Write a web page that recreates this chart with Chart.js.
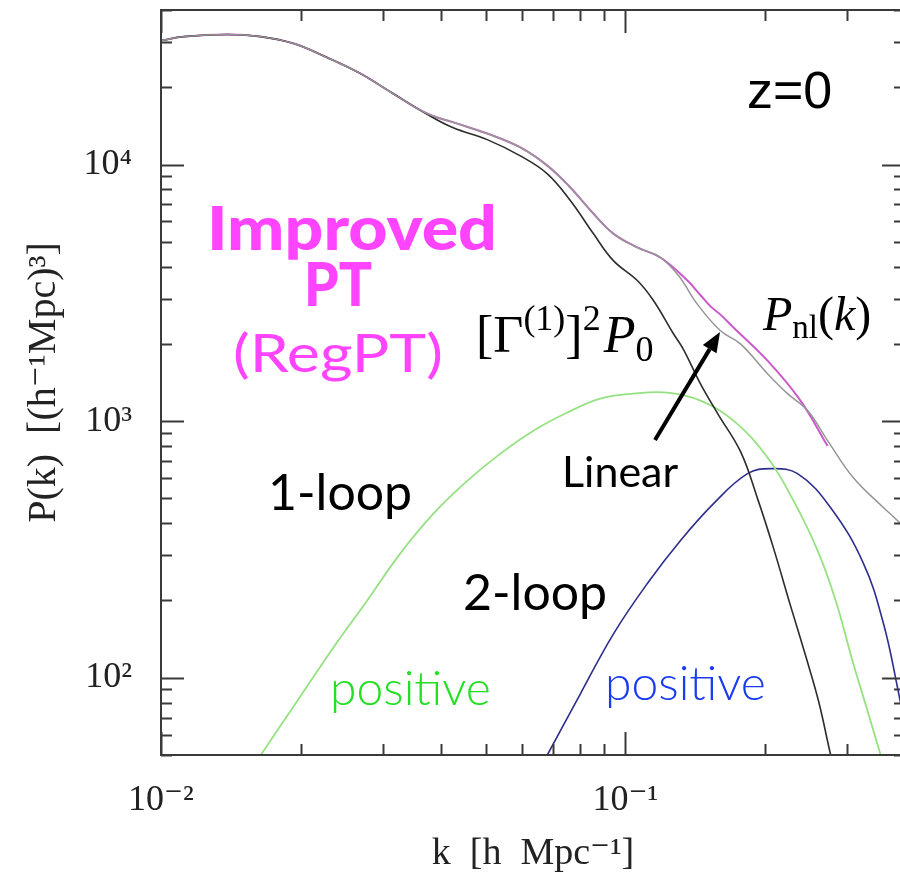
<!DOCTYPE html>
<html>
<head>
<meta charset="utf-8">
<script src="https://cdn.jsdelivr.net/npm/chart.js@4.4.1/dist/chart.umd.min.js"></script>
<style>
  html, body { margin: 0; padding: 0; background: #ffffff; overflow: hidden; }
  canvas { display: block; }
</style>
</head>
<body>
<canvas id="pk" width="900" height="875"></canvas>
<script>
// Matter power spectrum at z = 0: k in h/Mpc, P(k) in (Mpc/h)^3

// linear spectrum
const kLinear = [0.01, 0.0112, 0.0139, 0.0164, 0.0193, 0.0228, 0.0269, 0.0316, 0.0374, 0.0426, 0.0504, 0.0594, 0.0679, 0.0761, 0.0853, 0.0942, 0.1061, 0.119, 0.13, 0.143, 0.1602, 0.1769, 0.2023, 0.2234, 0.2468, 0.2725, 0.31, 0.3597, 0.3857, 0.4];
const pLinear = [30400, 31500, 32100, 31500, 29600, 26100, 22600, 18900, 15800, 14600, 13200, 11650, 9900, 8140, 6440, 5380, 4750, 4340, 3700, 2850, 2250, 2000, 1530, 1280, 1100, 840, 600, 460, 409, 380];

// propagator-damped linear term [Gamma^(1)]^2 P0
const kDamped = [0.01, 0.0112, 0.0139, 0.0164, 0.0193, 0.0228, 0.0269, 0.0316, 0.0374, 0.0426, 0.0504, 0.0594, 0.0679, 0.0761, 0.0853, 0.0942, 0.1061, 0.1149, 0.1269, 0.1334, 0.145, 0.158, 0.177, 0.1925, 0.2084, 0.2267, 0.2443, 0.2606, 0.2767, 0.282];
const pDamped = [30400, 31500, 32100, 31500, 29600, 26100, 22600, 18900, 15700, 13900, 12500, 10800, 9200, 7240, 5380, 4220, 3530, 2950, 2190, 1900, 1400, 1070, 760, 500, 320, 191, 122, 81, 50, 44];

// RegPT nonlinear spectrum
const kRegPT = [0.01, 0.0112, 0.0139, 0.0164, 0.0193, 0.0228, 0.0269, 0.0316, 0.0374, 0.0426, 0.0504, 0.0594, 0.0679, 0.0761, 0.0853, 0.0942, 0.1061, 0.119, 0.136, 0.145, 0.1525, 0.1602, 0.1709, 0.2023, 0.2384, 0.2725];
const pRegPT = [30400, 31500, 32100, 31500, 29600, 26100, 22600, 18900, 15800, 14600, 13200, 11650, 9900, 8140, 6440, 5380, 4750, 4340, 3530, 3100, 2800, 2600, 2315, 1720, 1200, 800];

// 1-loop contribution (positive)
const kOneLoop = [0.0164, 0.0199, 0.0235, 0.0278, 0.0327, 0.0386, 0.0457, 0.0538, 0.0634, 0.075, 0.0883, 0.104, 0.1232, 0.145, 0.1709, 0.2023, 0.2301, 0.2594, 0.2836, 0.3085, 0.3324, 0.3545];
const pOneLoop = [50, 84, 131, 200, 304, 436, 586, 747, 918, 1080, 1224, 1280, 1291, 1202, 1004, 721, 490, 313, 200, 116, 74, 50];

// 2-loop contribution (positive)
const kTwoLoop = [0.0679, 0.08, 0.0942, 0.1115, 0.1313, 0.1548, 0.1832, 0.2053, 0.2348, 0.2767, 0.3258, 0.3597, 0.3857, 0.4];
const pTwoLoop = [50, 86.6, 148, 233, 342, 477, 624, 653, 624, 460, 278, 162, 91, 64];

// axis ranges and decade labels
const kRange = [0.01, 0.4];
const pRange = [50, 40000];
const kDecades = [-2, -1];
const kDecadeLabels = ['10⁻²', '10⁻¹'];
const pDecades = [2, 3, 4];
const pDecadeLabels = ['10²', '10³', '10⁴'];

const SERIF = "'Liberation Serif', 'DejaVu Serif', serif";
const HUMANIST = "Lato, 'Open Sans', sans-serif";
const AXIS_COLOR = '#3a3a3a';
// right edge of the plot box; it runs just past the canvas border
const PLOT_RIGHT = 905;

const toPoints = (ks, ps) => ks.map((k, i) => ({ x: k, y: ps[i] }));

function decadeLabel(value, decades, labels) {
  const e = Math.log10(value);
  const r = Math.round(e);
  if (Math.abs(e - r) > 1e-6) return '';
  const i = decades.indexOf(r);
  return i < 0 ? '' : labels[i];
}

// all 1..9 x 10^n values inside a range
function logTickValues(min, max) {
  const out = [];
  for (let e = Math.floor(Math.log10(min)); e <= Math.ceil(Math.log10(max)); e++) {
    for (let m = 1; m <= 9; m++) {
      const v = m * Math.pow(10, e);
      if (v >= min * 0.9999 && v <= max * 1.0001) out.push({ v, major: m === 1 });
    }
  }
  return out;
}

// widen the plot box so its right side sits at PLOT_RIGHT
const plotBox = {
  id: 'plotBox',
  afterLayout(chart) {
    const area = chart.chartArea;
    const x = chart.scales.x;
    area.right = PLOT_RIGHT;
    area.width = area.right - area.left;
    x.right = PLOT_RIGHT;
    x.width = x.right - x.left;
    x.configure();
  }
};

// box frame with inward ticks on all four sides
const frameTicks = {
  id: 'frameTicks',
  afterDatasetsDraw(chart) {
    const { ctx, chartArea: a, scales: { x, y } } = chart;
    ctx.save();
    ctx.strokeStyle = AXIS_COLOR;
    ctx.lineWidth = 2;
    ctx.lineCap = 'butt';
    ctx.strokeRect(a.left, a.top, a.right - a.left, a.bottom - a.top);
    ctx.beginPath();
    for (const t of logTickValues(x.min, x.max)) {
      const px = Math.round(x.getPixelForValue(t.v)) + 0.5;
      const len = t.major ? 23 : 11;
      ctx.moveTo(px, a.bottom); ctx.lineTo(px, a.bottom - len);
      ctx.moveTo(px, a.top); ctx.lineTo(px, a.top + len);
    }
    for (const t of logTickValues(y.min, y.max)) {
      const py = Math.round(y.getPixelForValue(t.v)) + 0.5;
      const len = t.major ? 23 : 11;
      ctx.moveTo(a.left, py); ctx.lineTo(a.left + len, py);
      ctx.moveTo(a.right, py); ctx.lineTo(a.right - len, py);
    }
    ctx.stroke();
    ctx.restore();
  }
};

// draws a run of text pieces with their own fonts and baseline shifts
function drawRuns(ctx, x, y, runs, color) {
  ctx.fillStyle = color;
  ctx.textAlign = 'left';
  ctx.textBaseline = 'alphabetic';
  let cx = x;
  for (const r of runs) {
    ctx.font = r.font;
    ctx.fillText(r.t, cx, y + (r.dy || 0));
    cx += ctx.measureText(r.t).width + (r.gap || 0);
  }
}

// text centred on cx, stretched horizontally to the given width
function drawWide(ctx, s, cx, y, width, font, color) {
  ctx.save();
  ctx.font = font;
  ctx.fillStyle = color;
  ctx.textAlign = 'center';
  ctx.textBaseline = 'alphabetic';
  const sx = width / ctx.measureText(s).width;
  ctx.translate(cx, y);
  ctx.scale(sx, 1);
  ctx.fillText(s, 0, 0);
  ctx.restore();
}

function drawText(ctx, s, x, y, font, color, align) {
  ctx.font = font;
  ctx.fillStyle = color;
  ctx.textAlign = align || 'left';
  ctx.textBaseline = 'alphabetic';
  ctx.fillText(s, x, y);
}

// curve names, the RegPT heading and the arrow to the linear spectrum
const annotations = {
  id: 'annotations',
  afterDraw(chart) {
    const { ctx } = chart;
    ctx.save();
    drawWide(ctx, 'Improved', 352, 250, 290, `900 60px ${HUMANIST}`, '#ff44ff');
    drawWide(ctx, 'PT', 338, 306, 68, `900 60px ${HUMANIST}`, '#ff44ff');
    drawWide(ctx, '(RegPT)', 338, 372, 210, `52px ${HUMANIST}`, '#ff44ff');
    drawText(ctx, '1-loop', 268, 510, `50px ${HUMANIST}`, '#000000');
    drawText(ctx, '2-loop', 463, 610, `50px ${HUMANIST}`, '#000000');
    drawText(ctx, 'positive', 330, 705, `300 48px ${HUMANIST}`, '#22e022');
    drawText(ctx, 'positive', 605, 700, `300 48px ${HUMANIST}`, '#1a3cf0');
    drawText(ctx, 'Linear', 562, 487, `43px ${HUMANIST}`, '#000000');
    drawText(ctx, 'z=0', 747, 108, `52px 'Liberation Sans', Arial, sans-serif`, '#000000');

    drawRuns(ctx, 476, 352, [
      { t: '[Γ', font: `52px ${SERIF}` },
      { t: '(1)', font: `36px ${SERIF}`, dy: -22 },
      { t: ']', font: `52px ${SERIF}` },
      { t: '2', font: `36px ${SERIF}`, dy: -22, gap: 3 },
      { t: 'P', font: `italic 52px ${SERIF}` },
      { t: '0', font: `36px ${SERIF}`, dy: 9 }
    ], '#000000');

    drawRuns(ctx, 763, 330, [
      { t: 'P', font: `italic 48px ${SERIF}` },
      { t: 'nl', font: `33px ${SERIF}`, dy: 8 },
      { t: '(', font: `48px ${SERIF}` },
      { t: 'k', font: `italic 48px ${SERIF}` },
      { t: ')', font: `48px ${SERIF}` }
    ], '#000000');

    // arrow from the "Linear" label up to the linear curve
    const x0 = 655, y0 = 440, x1 = 720, y1 = 332;
    const ang = Math.atan2(y1 - y0, x1 - x0);
    const head = 20, half = 8;
    const bx = x1 - head * Math.cos(ang), by = y1 - head * Math.sin(ang);
    ctx.strokeStyle = '#000000';
    ctx.lineWidth = 4;
    ctx.beginPath();
    ctx.moveTo(x0, y0);
    ctx.lineTo(bx, by);
    ctx.stroke();
    ctx.fillStyle = '#000000';
    ctx.beginPath();
    ctx.moveTo(x1, y1);
    ctx.lineTo(bx + half * Math.sin(ang), by - half * Math.cos(ang));
    ctx.lineTo(bx - half * Math.sin(ang), by + half * Math.cos(ang));
    ctx.closePath();
    ctx.fill();
    ctx.restore();
  }
};

const whiteBackground = {
  id: 'whiteBackground',
  beforeDraw(chart) {
    const { ctx, width, height } = chart;
    ctx.save();
    ctx.fillStyle = '#ffffff';
    ctx.fillRect(0, 0, width, height);
    ctx.restore();
  }
};

const curve = (label, ks, ps, color, width) => ({
  label,
  data: toPoints(ks, ps),
  borderColor: color,
  borderWidth: width,
  pointRadius: 0,
  fill: false,
  tension: 0.4
});

// the plot box is fixed: edge labels must not shrink it
const noEdgePadding = (scale) => {
  scale.paddingLeft = 0;
  scale.paddingRight = 0;
  scale.paddingTop = 0;
  scale.paddingBottom = 0;
};

new Chart(document.getElementById('pk'), {
  type: 'line',
  data: {
    datasets: [
      curve('Linear', kLinear, pLinear, 'rgb(150,150,150)', 1.5),
      curve('[Γ(1)]² P0', kDamped, pDamped, 'rgb(45,45,45)', 1.6),
      curve('1-loop', kOneLoop, pOneLoop, 'rgb(150,225,130)', 1.8),
      curve('2-loop', kTwoLoop, pTwoLoop, 'rgb(45,45,140)', 1.6),
      curve('RegPT', kRegPT, pRegPT, 'rgba(195,60,195,0.85)', 2)
    ]
  },
  options: {
    responsive: false,
    animation: false,
    devicePixelRatio: 1,
    layout: { padding: { left: 0, top: 10, right: 0, bottom: 0 } },
    plugins: { legend: { display: false }, tooltip: { enabled: false } },
    scales: {
      x: {
        type: 'logarithmic',
        min: kRange[0],
        max: kRange[1],
        grid: { display: false },
        border: { display: false },
        ticks: {
          autoSkip: false,
          maxRotation: 0,
          minRotation: 0,
          padding: 16,
          color: '#222222',
          font: { family: SERIF, size: 36 },
          callback: (v) => decadeLabel(v, kDecades, kDecadeLabels)
        },
        title: {
          display: true,
          text: 'k  [h  Mpc⁻¹]',
          color: '#222222',
          font: { family: SERIF, size: 38 },
          padding: { top: 0, bottom: -2 }
        },
        afterFit(scale) { scale.height = 120; noEdgePadding(scale); }
      },
      y: {
        type: 'logarithmic',
        min: pRange[0],
        max: pRange[1],
        grid: { display: false },
        border: { display: false },
        ticks: {
          autoSkip: false,
          padding: 21,
          color: '#222222',
          font: { family: SERIF, size: 36 },
          callback: (v) => decadeLabel(v, pDecades, pDecadeLabels)
        },
        title: {
          display: true,
          text: 'P(k)  [(h⁻¹Mpc)³]',
          color: '#222222',
          font: { family: SERIF, size: 40 },
          padding: { top: 20, bottom: 0 }
        },
        afterFit(scale) { scale.width = 161; noEdgePadding(scale); }
      }
    }
  },
  plugins: [whiteBackground, plotBox, frameTicks, annotations]
});
</script>
</body>
</html>
